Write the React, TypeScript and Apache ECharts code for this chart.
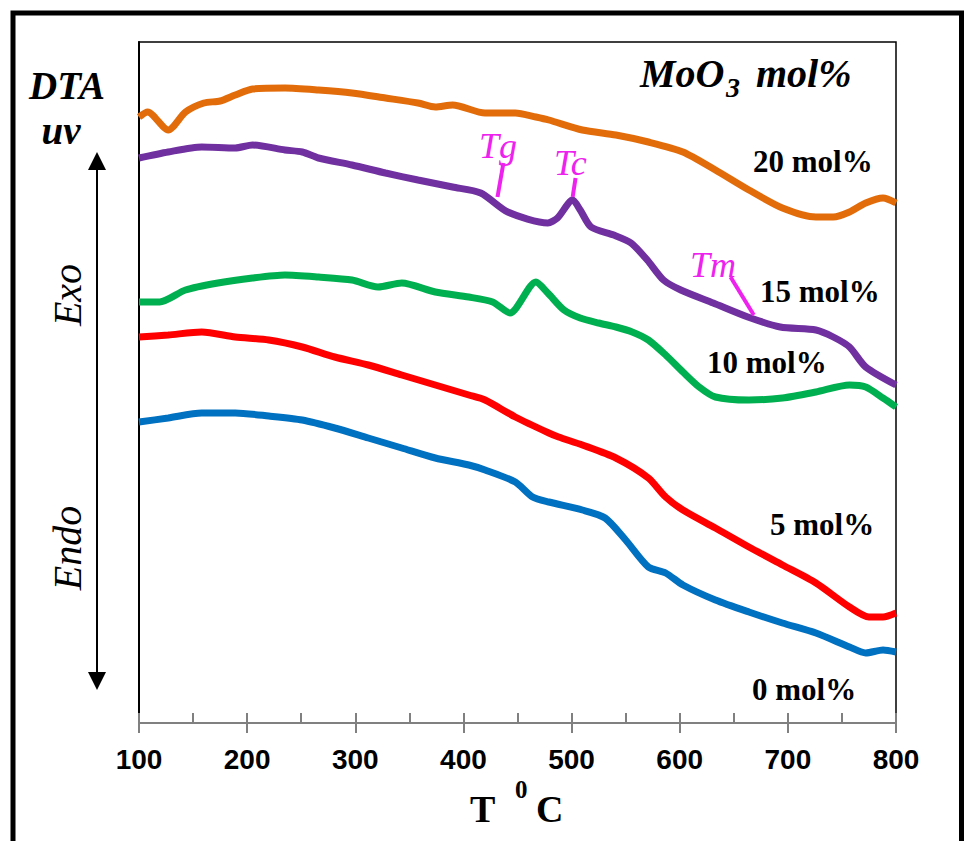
import React, { useEffect, useRef } from "react";
import * as echarts from "echarts";

// Temperature (°C) and DTA signal (arbitrary units, uv) for each MoO3 content
const t20 = [100, 108, 127, 143, 160, 175, 189, 205, 235, 266, 297, 328, 358, 374, 390, 420, 448, 467, 479, 510, 541, 571, 603, 633, 664, 695, 726, 742, 757, 772, 788, 800];
const v20 = [606, 611, 593, 611, 620, 622, 628, 634, 635, 633, 630, 625, 620, 616, 618, 610, 610, 606, 603, 593, 588, 581, 571, 553, 533, 515, 506, 506, 511, 520, 525, 520];

const t15 = [100, 127, 158, 189, 205, 235, 251, 266, 297, 328, 358, 390, 416, 441, 478, 487, 501, 508, 518, 539, 555, 570, 585, 601, 631, 663, 693, 726, 742, 757, 772, 800];
const v15 = [565, 571, 576, 575, 578, 573, 571, 565, 558, 550, 543, 536, 530, 511, 500, 505, 523, 513, 496, 488, 480, 463, 443, 433, 420, 406, 396, 393, 386, 376, 356, 338];

const t10 = [100, 119, 143, 173, 205, 235, 266, 297, 321, 343, 374, 405, 427, 443, 467, 478, 493, 508, 525, 541, 556, 571, 587, 603, 618, 633, 664, 695, 726, 757, 772, 788, 800];
const v10 = [421, 421, 433, 440, 445, 448, 446, 443, 436, 440, 431, 426, 421, 410, 441, 430, 413, 405, 400, 396, 391, 383, 368, 351, 336, 326, 323, 325, 331, 338, 336, 325, 316];

const t5 = [100, 127, 158, 189, 220, 251, 281, 312, 343, 374, 405, 420, 448, 479, 488, 510, 541, 571, 587, 603, 633, 664, 695, 726, 757, 775, 788, 800];
const v5 = [386, 388, 391, 386, 383, 376, 366, 358, 348, 338, 328, 323, 306, 290, 286, 278, 265, 245, 226, 213, 195, 176, 158, 140, 116, 106, 106, 110];

const t0 = [100, 127, 158, 189, 220, 251, 281, 312, 343, 374, 405, 420, 448, 464, 479, 510, 531, 550, 571, 587, 603, 633, 664, 695, 726, 757, 772, 788, 800];
const v0 = [301, 305, 310, 310, 307, 303, 295, 285, 275, 265, 258, 253, 241, 226, 221, 213, 205, 183, 156, 150, 138, 123, 111, 100, 90, 76, 70, 73, 71];

const seriesNames = ["20 mol%", "15 mol%", "10 mol%", "5 mol%", "0 mol%"];
const seriesColors = ["#E36C0A", "#7030A0", "#00B050", "#FF0000", "#0070C0"];

// Tg / Tc / Tm marker ticks (data coordinates) on the 15 mol% curve
const tickTg = [[437, 560], [431.5, 526]];
const tickTc = [[503.7, 545], [501, 526]];
const tickTm = [[647, 446], [668.5, 408]];

const xTicks = { min: 100, max: 800, interval: 100 };

const pair = (t: number[], v: number[]) => t.map((x, i) => [x, v[i]]);

const SERIF = '"Liberation Serif", "Times New Roman", serif';
const MAGENTA = "#EE22EE";

function txt(text: string, x: number, y: number, font: string, opts: any = {}) {
  return {
    type: "text",
    x,
    y,
    rotation: opts.rotation || 0,
    silent: true,
    style: {
      text,
      fill: opts.fill || "#000",
      font,
      textAlign: opts.align || "left",
      textVerticalAlign: "middle",
    },
  };
}

export default function App() {
  const ref = useRef<HTMLDivElement>(null);
  useEffect(() => {
    const chart = echarts.init(ref.current!, null, { renderer: "svg" });
    const datasets = [pair(t20, v20), pair(t15, v15), pair(t10, v10), pair(t5, v5), pair(t0, v0)];
    const series: any[] = datasets.map((d, i) => ({
      type: "line",
      name: seriesNames[i],
      data: d,
      xAxisIndex: 0,
      yAxisIndex: 0,
      showSymbol: false,
      symbol: "none",
      smooth: 0.25,
      silent: true,
      lineStyle: { color: seriesColors[i], width: 7 },
      z: 3,
    }));
    series[1].markLine = {
      silent: true,
      symbol: ["none", "none"],
      label: { show: false },
      lineStyle: { color: MAGENTA, width: 4, type: "solid" },
      data: [tickTg, tickTc, tickTm].map((tk) => [{ coord: tk[0] }, { coord: tk[1] }]),
    };

    const graphic: any[] = [
      {
        type: "rect",
        silent: true,
        shape: { x: 13, y: 13, width: 948.5, height: 900 },
        style: { fill: "none", stroke: "#000", lineWidth: 5 },
      },
      // Exo / Endo arrow
      { type: "line", silent: true, shape: { x1: 97, y1: 166, x2: 97, y2: 676 }, style: { stroke: "#000", lineWidth: 2 } },
      { type: "polygon", silent: true, shape: { points: [[97, 152], [88, 170], [106, 170]] }, style: { fill: "#000" } },
      { type: "polygon", silent: true, shape: { points: [[97, 690], [88, 672], [106, 672]] }, style: { fill: "#000" } },
      txt("DTA", 67, 85, `italic bold 39px ${SERIF}`, { align: "center" }),
      txt("uv", 61, 130, `italic bold 39px ${SERIF}`, { align: "center" }),
      txt("Exo", 67, 295, `italic 40px ${SERIF}`, { align: "center", rotation: Math.PI / 2 }),
      txt("Endo", 67, 548, `italic 40px ${SERIF}`, { align: "center", rotation: Math.PI / 2 }),
      txt("MoO", 640, 73.5, `italic bold 40px ${SERIF}`),
      txt("3", 726, 87.5, `italic bold 28px ${SERIF}`),
      txt("mol%", 756, 73.5, `italic bold 40px ${SERIF}`),
      txt(seriesNames[0], 753, 161.5, `bold 31px ${SERIF}`),
      txt(seriesNames[1], 760, 291.5, `bold 31px ${SERIF}`),
      txt(seriesNames[2], 707, 362.5, `bold 31px ${SERIF}`),
      txt(seriesNames[3], 770, 524.5, `bold 31px ${SERIF}`),
      txt(seriesNames[4], 752, 689.5, `bold 31px ${SERIF}`),
      txt("Tg", 479, 146, `italic 36px ${SERIF}`, { fill: MAGENTA }),
      txt("Tc", 554, 163, `italic 36px ${SERIF}`, { fill: MAGENTA }),
      txt("Tm", 690, 265, `italic 36px ${SERIF}`, { fill: MAGENTA }),
      txt("T", 470, 809, `bold 38px ${SERIF}`),
      txt("0", 515, 789, `bold 25px ${SERIF}`),
      txt("C", 536, 809, `bold 38px ${SERIF}`),
    ];

    chart.setOption({
      animation: false,
      backgroundColor: "#fff",
      grid: {
        left: 139,
        right: 70,
        top: 42,
        bottom: 118,
        show: true,
        borderColor: "#000",
        borderWidth: 1.5,
        backgroundColor: "transparent",
      },
      xAxis: [
        {
          type: "value",
          ...xTicks,
          axisLine: { show: true, onZero: false, lineStyle: { color: "#808080", width: 2 } },
          axisTick: { show: true, inside: true, length: 10, lineStyle: { color: "#808080", width: 2 } },
          minorTick: { show: true, splitNumber: 2, length: 10, lineStyle: { color: "#808080", width: 2 } },
          axisLabel: {
            margin: 22,
            color: "#000",
            fontFamily: '"Liberation Sans", Arial, sans-serif',
            fontWeight: "bold",
            fontSize: 28,
          },
          splitLine: { show: false },
          minorSplitLine: { show: false },
          z: 4,
        },
        {
          type: "value",
          ...xTicks,
          position: "bottom",
          axisLine: { show: false, onZero: false },
          axisTick: { show: true, inside: false, length: 10, lineStyle: { color: "#808080", width: 2 } },
          axisLabel: { show: false },
          splitLine: { show: false },
          z: 4,
        },
      ],
      yAxis: {
        type: "value",
        min: 0,
        max: 681,
        axisLine: { show: true, lineStyle: { color: "#000", width: 2 } },
        axisTick: { show: false },
        axisLabel: { show: false },
        splitLine: { show: false },
      },
      series,
      graphic,
    });
    return () => chart.dispose();
  }, []);
  return (
    <div
      ref={ref}
      style={{ position: "fixed", left: 0, top: 0, width: 966, height: 841, background: "#fff" }}
    />
  );
}
